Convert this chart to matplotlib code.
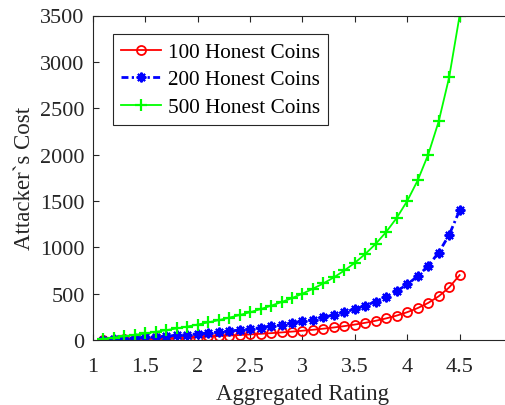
import matplotlib
matplotlib.use("Agg")
import matplotlib.pyplot as plt

rating = [1.1, 1.2, 1.3, 1.4, 1.5, 1.6, 1.7, 1.8, 1.9, 2.0,
          2.1, 2.2, 2.3, 2.4, 2.5, 2.6, 2.7, 2.8, 2.9, 3.0,
          3.1, 3.2, 3.3, 3.4, 3.5, 3.6, 3.7, 3.8, 3.9, 4.0,
          4.1, 4.2, 4.3, 4.4, 4.5]
cost_100 = [2.6, 5.3, 8.1, 11.1, 14.3, 17.6, 21.2, 25.0, 29.0, 33.3,
            37.9, 42.9, 48.1, 53.8, 60.0, 66.7, 73.9, 81.8, 90.5, 100.0,
            110.5, 122.2, 135.3, 150.0, 166.7, 185.7, 207.7, 233.3, 263.6, 300.0,
            344.4, 400.0, 471.4, 566.7, 700.0]
cost_200 = [5, 11, 16, 22, 29, 35, 42, 50, 58, 67,
            76, 86, 96, 108, 120, 133, 148, 164, 181, 200,
            221, 244, 271, 300, 333, 371, 415, 467, 527, 600,
            689, 800, 943, 1133, 1400]
cost_500 = [13, 26, 41, 56, 71, 88, 106, 125, 145, 167,
            190, 214, 241, 269, 300, 333, 370, 409, 452, 500,
            553, 611, 676, 750, 833, 929, 1038, 1167, 1318, 1500,
            1722, 2000, 2357, 2833, 3500]
labels = ["100 Honest Coins", "200 Honest Coins", "500 Honest Coins"]
xticks = [1, 1.5, 2, 2.5, 3, 3.5, 4, 4.5]
yticks = [0, 500, 1000, 1500, 2000, 2500, 3000, 3500]

plt.rcParams['font.family'] = ['Liberation Serif', 'DejaVu Serif']

W, H = 506, 406
fig = plt.figure(figsize=(W / 100, H / 100), dpi=100)
ax = fig.add_axes([93 / W, (H - 341) / H, (512 - 93) / W, (341 - 16.5) / H])

tc = '#262626'
ax.plot(rating, cost_100, color='#ff0000', lw=1.3, marker='o', ms=6.5,
        mfc='none', mec='#ff0000', mew=1.3, label=labels[0])
ax.plot(rating, cost_200, color='#0000ff', lw=2.0, ls='-.', marker=(8, 2, 0), ms=7,
        mfc='#0000ff', mec='#0000ff', mew=1.5, label=labels[1], dashes=(2.5, 1.2, 0.8, 1.2))
ax.plot(rating, cost_500, color='#00ff00', lw=1.3, marker='+', ms=9,
        mew=1.6, label=labels[2])

ax.set_xlim(1, 5)
ax.set_ylim(0, 3500)
ax.set_xticks(xticks)
ax.set_xticklabels(['1', '1.5', '2', '2.5', '3', '3.5', '4', '4.5'])
ax.set_yticks(yticks)
ax.tick_params(direction='in', length=4, width=0.8, colors=tc, labelsize=16,
               top=True, right=True)
ax.tick_params(axis='x', pad=12)
ax.tick_params(axis='y', pad=6)
for s in ax.spines.values():
    s.set_color(tc)
    s.set_linewidth(0.8)

ax.set_xlabel("Aggregated Rating", fontsize=16.5, color=tc, labelpad=5)
ax.set_ylabel("Attacker`s Cost", fontsize=16.5, color=tc, labelpad=4)

leg = ax.legend(loc='upper left', bbox_to_anchor=(113 / W, 1 - 35 / H),
                bbox_transform=fig.transFigure, fontsize=15.3, frameon=True,
                fancybox=False, edgecolor=tc, framealpha=1, borderaxespad=0,
                handlelength=1.9, handletextpad=0.3, borderpad=0.38,
                labelspacing=0.36)
leg.get_frame().set_linewidth(0.8)

fig.savefig("out.png", dpi=100)
